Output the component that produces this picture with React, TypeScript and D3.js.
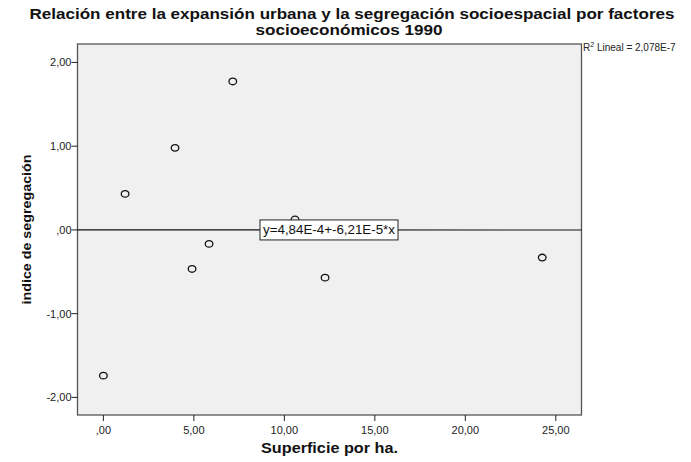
import React from "react";
import * as d3 from "d3";

// Superficie por ha. (x) and índice de segregación (y), 1990
const superficie = [0.0, 1.2, 3.96, 4.9, 5.84, 7.15, 10.59, 12.25, 24.25];
const indice = [-1.74, 0.43, 0.98, -0.466, -0.167, 1.773, 0.125, -0.57, -0.33];

const xTicks = [0, 5, 10, 15, 20, 25];
const yTicks = [-2, -1, 0, 1, 2];

const intercept = 4.84e-4;
const slope = -6.21e-5;

const titleLines = [
  "Relación entre la expansión urbana y la segregación socioespacial por factores",
  "socioeconómicos 1990",
];

const W = 691;
const H = 462;
const plot = { left: 77.5, right: 581.5, top: 44, bottom: 415 };

const fmt = (v: number) => {
  const s = Math.abs(v).toFixed(2).replace(".", ",");
  const t = s.startsWith("0") ? s.slice(1) : s;
  return (v < 0 ? "-" : "") + t;
};

export default function App() {
  const x = d3.scaleLinear().domain([-1.43, 26.42]).range([plot.left, plot.right]);
  const y = d3.scaleLinear().domain([2.22, -2.21]).range([plot.top, plot.bottom]);
  const font = "Liberation Sans, Arial, sans-serif";
  const [x0, x1] = x.domain();
  const line = d3.line<number>().x((d) => x(d)).y((d) => y(intercept + slope * d));

  const boxCx = 329;
  const boxCy = y(intercept + slope * x.invert(boxCx));

  return (
    <svg width={W} height={H} style={{ position: "absolute", left: 0, top: 0, background: "#fff" }} fontFamily={font}>
      <rect x={0} y={0} width={W} height={H} fill="#fff" />
      <text x={352} y={19} textAnchor="middle" fontSize={15} fontWeight="bold" fill="#111" textLength={645} lengthAdjust="spacingAndGlyphs">
        {titleLines[0]}
      </text>
      <text x={349} y={34.5} textAnchor="middle" fontSize={15} fontWeight="bold" fill="#111" textLength={187} lengthAdjust="spacingAndGlyphs">
        {titleLines[1]}
      </text>
      <rect x={plot.left} y={plot.top} width={plot.right - plot.left} height={plot.bottom - plot.top} fill="#f0f0f0" stroke="#555" strokeWidth={1.3} />
      {yTicks.map((t) => (
        <g key={t}>
          <line x1={plot.left - 6} x2={plot.left} y1={y(t)} y2={y(t)} stroke="#222" />
          <text x={plot.left - 6} y={y(t) + 4} textAnchor="end" fontSize={11} fill="#222">{fmt(t)}</text>
        </g>
      ))}
      {xTicks.map((t) => (
        <g key={t}>
          <line x1={x(t)} x2={x(t)} y1={plot.bottom} y2={plot.bottom + 6} stroke="#222" />
          <text x={x(t)} y={plot.bottom + 19} textAnchor="middle" fontSize={11} fill="#222">{fmt(t)}</text>
        </g>
      ))}
      <path d={line([x0, x1]) || ""} stroke="#111" strokeWidth={1.1} fill="none" />
      {superficie.map((sv, i) => (
        <ellipse key={i} cx={x(sv)} cy={y(indice[i])} rx={3.8} ry={3.3} fill="none" stroke="#111" strokeWidth={1.3} />
      ))}
      <rect x={boxCx - 69} y={boxCy - 10} width={138} height={20} fill="#fff" stroke="#222" strokeWidth={1} />
      <text x={boxCx} y={boxCy + 4.5} textAnchor="middle" fontSize={12.5} fill="#111" textLength={132} lengthAdjust="spacingAndGlyphs">
        y=4,84E-4+-6,21E-5*x
      </text>
      <text x={583} y={51} fontSize={10} fill="#222">
        R<tspan dy={-4} fontSize={7}>2</tspan><tspan dy={4}> Lineal = 2,078E-7</tspan>
      </text>
      <text x={329.5} y={453} textAnchor="middle" fontSize={14} fontWeight="bold" fill="#111" textLength={137} lengthAdjust="spacingAndGlyphs">
        Superficie por ha.
      </text>
      <text transform={`translate(31, ${(plot.top + plot.bottom) / 2}) rotate(-90)`} textAnchor="middle" fontSize={13.5} fontWeight="bold" fill="#111" textLength={150} lengthAdjust="spacingAndGlyphs">
        indice de segregación
      </text>
    </svg>
  );
}
